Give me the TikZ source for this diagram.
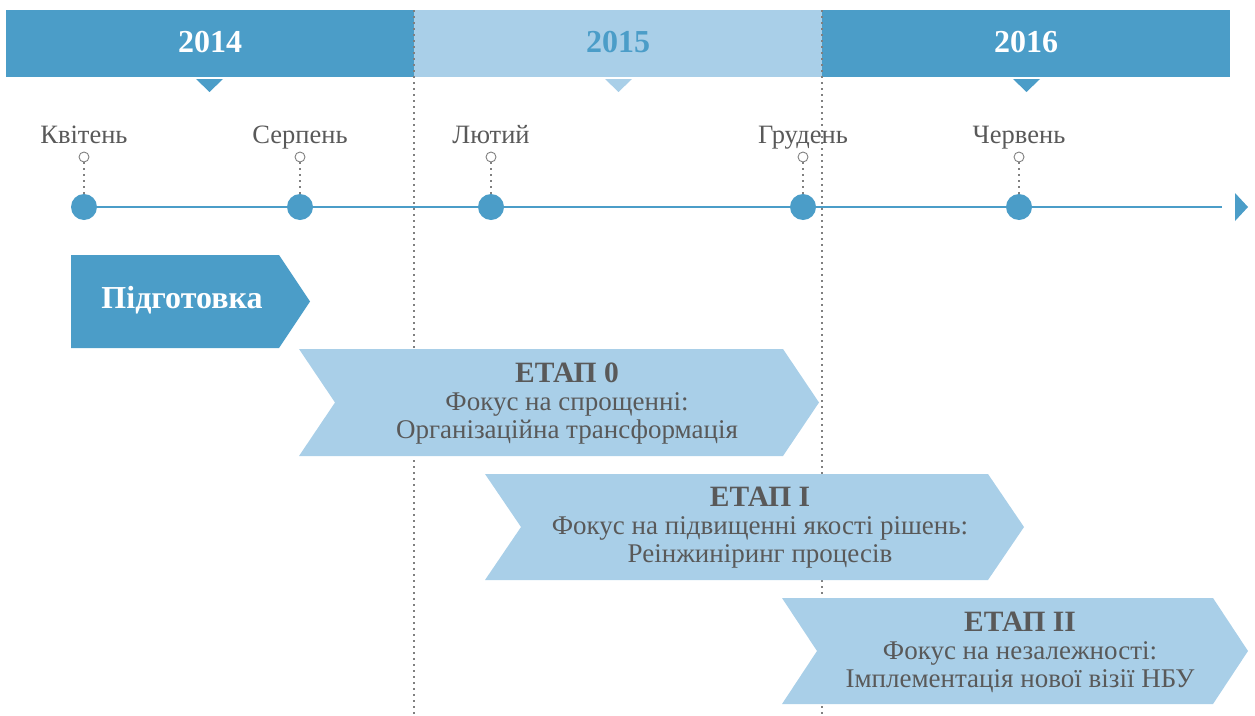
\documentclass[tikz,border=0pt]{standalone}
\usepackage{fontspec}
\setmainfont{Liberation Serif}
\definecolor{darkblue}{HTML}{4B9DC8}
\definecolor{lightblue}{HTML}{A9CFE8}
\definecolor{textgray}{HTML}{595959}
\definecolor{dotgray}{HTML}{808080}
\tikzset{
  year/.style={font=\fontsize{32}{32}\selectfont\bfseries},
  month/.style={font=\fontsize{26.5}{26.5}\selectfont, text=textgray, anchor=base},
  stagetext/.style={font=\fontsize{27}{28}\selectfont, text=textgray, align=center},
  guide/.style={dotgray, line width=1.2pt, dash pattern=on 2pt off 4pt},
}
\newcommand{\stagetitle}[1]{{\fontsize{29.5}{28}\selectfont\bfseries #1}}
\begin{document}
\begin{tikzpicture}[x=1pt,y=-1pt]
\useasboundingbox (0,0) rectangle (1255,715);

% year bars
\fill[darkblue] (6,10) rectangle (414,77);
\fill[lightblue] (414,10) rectangle (822,77);
\fill[darkblue] (822,10) rectangle (1230,77);
\fill[darkblue] (196,79) -- (223,79) -- (209.5,92) -- cycle;
\fill[lightblue] (605,79) -- (632,79) -- (618.5,92) -- cycle;
\fill[darkblue] (1013,79) -- (1040,79) -- (1026.5,92) -- cycle;
\node[year, text=white] (y2014) at (210,42) {2014};
\node[year, text=darkblue] (y2015) at (618,42) {2015};
\node[year, text=white] (y2016) at (1026,42) {2016};

% year borders
\draw[guide] (414,10) -- (414,715);
\draw[guide] (822,10) -- (822,715);

% time axis
\coordinate (tstart) at (85,207);
\coordinate (tend) at (1222,207);
\draw[darkblue, line width=1.2pt] (tstart) -- (tend);
\fill[darkblue] (1235,193) -- (1248,207) -- (1235,221) -- cycle;

\foreach \x/\name/\lab in {84/apr/Квітень, 300/aug/Серпень, 491/feb/Лютий, 803/dec/Грудень, 1019/jun/Червень}{
  \node[circle, fill=darkblue, minimum size=26pt, inner sep=0pt] (dot\name) at (\x,207) {};
  \node[circle, draw=dotgray, fill=white, line width=0.9pt, minimum size=10pt, inner sep=0pt] (ring\name) at (\x,157) {};
  \draw[guide] (ring\name) -- (dot\name);
  \node[month] (lab\name) at (\x,143) {\lab};
}

% stages
\fill[darkblue] (71,255) -- (279,255) -- (310,301.5) -- (279,348) -- (71,348) -- cycle;
\node[font=\fontsize{32}{32}\selectfont\bfseries, text=white] (prep) at (182,300) {Підготовка};

\fill[lightblue] (299,349) -- (783,349) -- (819,402.5) -- (783,456) -- (299,456) -- (335,402.5) -- cycle;
\node[stagetext] (stage0) at (567,404) {\stagetitle{ЕТАП 0}\\Фокус на спрощенні:\\Організаційна трансформація};

\fill[lightblue] (485,474) -- (988,474) -- (1024,527) -- (988,580) -- (485,580) -- (521,527) -- cycle;
\node[stagetext] (stage1) at (760,528) {\stagetitle{ЕТАП I}\\Фокус на підвищенні якості рішень:\\Реінжиніринг процесів};

\fill[lightblue] (782,598) -- (1213,598) -- (1248,651) -- (1213,704) -- (782,704) -- (817,651) -- cycle;
\node[stagetext] (stage2) at (1020,652) {\stagetitle{ЕТАП II}\\Фокус на незалежності:\\Імплементація нової візії НБУ};
\end{tikzpicture}
\end{document}
